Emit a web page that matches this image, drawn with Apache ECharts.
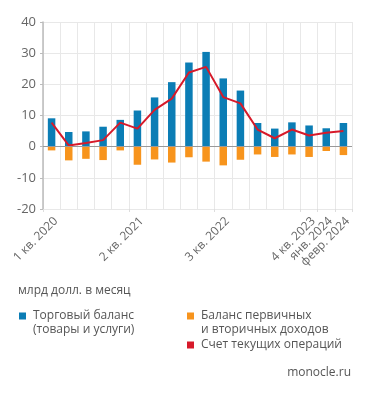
<!DOCTYPE html>
<html><head><meta charset="utf-8">
<script src="https://cdn.jsdelivr.net/npm/echarts@6/dist/echarts.min.js"></script>
<style>html,body{margin:0;padding:0;background:#fff}#c{width:371px;height:394px}</style>
</head><body><div id="c"></div>
<script>
const categories = ['1 кв. 2020','2 кв. 2020','3 кв. 2020','4 кв. 2020','1 кв. 2021','2 кв. 2021','3 кв. 2021','4 кв. 2021','1 кв. 2022','2 кв. 2022','3 кв. 2022','4 кв. 2022','1 кв. 2023','2 кв. 2023','3 кв. 2023','4 кв. 2023','янв. 2024','февр. 2024'];
const shownLabels = [0,5,10,15,16,17];
const trade = [9.1,4.7,4.9,6.4,8.6,11.6,15.8,20.7,27.0,30.4,21.9,18.0,7.6,5.8,7.8,6.8,5.9,7.6];
const income = [-1.2,-4.4,-3.9,-4.3,-1.2,-5.8,-4.1,-5.1,-3.4,-4.8,-6.0,-4.2,-2.5,-3.3,-2.5,-3.3,-1.4,-2.7];
const current = [7.7,0.4,1.2,2.1,7.7,5.8,11.8,15.4,23.8,25.6,15.9,13.9,5.5,2.7,5.5,3.6,4.5,5.0];
const yTicks = {min:-20, max:40, interval:10};
const names = ['Торговый баланс\n(товары и услуги)','Баланс первичных\nи вторичных доходов','Счет текущих операций'];
const FONT = 'Open Sans';
const chart = echarts.init(document.getElementById('c'), null, {renderer:'canvas'});
const ts = {color:'#555', fontSize:12, fontFamily:FONT, lineHeight:14, padding:[0,0,0,2]};
// square in the top third of a 7x21 icon box, so it lines up with the first of two text lines
const topSquare = 'path://M0,0H7V7H0Z M0,21H7';
const legTwo = (name, left, top) => ({data:[name], left:left, top:top, padding:0, icon:topSquare, itemWidth:7, itemHeight:21, textStyle:ts});
const legOne = (name, left, top) => ({data:[name], left:left, top:top, padding:0, icon:'rect', itemWidth:7, itemHeight:7, textStyle:ts});
chart.setOption({
  animation:false,
  textStyle:{fontFamily:FONT},
  grid:{left:43, right:19, top:22, bottom:185},
  xAxis:{type:'category', data:categories, boundaryGap:true,
    axisLine:{show:false, onZero:false},
    axisTick:{show:true, length:3, alignWithLabel:false, lineStyle:{color:'#ddd'}},
    splitLine:{show:true, interval:0, lineStyle:{color:'#e8e8e8', width:1}},
    axisLabel:{interval:(i)=>shownLabels.includes(i), rotate:45, color:'#666', fontSize:12, fontFamily:FONT, margin:6, verticalAlign:'top'}
  },
  yAxis:{type:'value', min:yTicks.min, max:yTicks.max, interval:yTicks.interval,
    axisLine:{show:true, lineStyle:{color:'#bbb', width:1.5}},
    axisTick:{show:true, length:3, lineStyle:{color:'#bbb'}},
    splitLine:{lineStyle:{color:'#e8e8e8'}},
    axisLabel:{color:'#666', fontSize:13, fontFamily:FONT, margin:7}
  },
  legend:[
    legTwo(names[0], 19, 309),
    legTwo(names[1], 187, 309),
    legOne(names[2], 187, 338)
  ],
  graphic:[
    {type:'text', left:18, top:285, style:{text:'млрд долл. в месяц', fill:'#555', font:'12px "Open Sans"'}},
    {type:'text', right:20, top:367, style:{text:'monocle.ru', fill:'#555', font:'12px "Open Sans"'}}
  ],
  series:[
    {name:names[0], type:'bar', stack:'s', data:trade, barWidth:7.5, itemStyle:{color:'#0b7db5'},
      markLine:{silent:true, symbol:'none', label:{show:false}, lineStyle:{color:'#999', type:'solid', width:1}, data:[{yAxis:0}]}},
    {name:names[1], type:'bar', stack:'s', data:income, barWidth:7.5, itemStyle:{color:'#f7941d'}},
    {name:names[2], type:'line', data:current, symbol:'none', lineStyle:{color:'#d71a2a', width:2}, itemStyle:{color:'#d71a2a'}}
  ]
});
</script></body></html>
